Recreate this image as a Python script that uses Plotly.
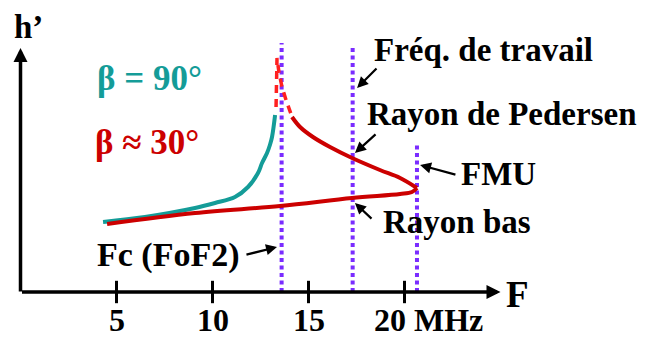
import plotly.graph_objects as go

# ---- data (frequency in MHz, virtual height h' in arbitrary units) ----
beta90_f = [4.30, 6.48, 9.09, 10.13, 11.17, 11.85, 12.37, 12.58, 12.84, 12.99, 13.10, 13.26]
beta90_h = [140, 150, 168, 178, 190, 210, 238, 258, 278, 294, 310, 354]

low_ray_f = [4.51, 9.09, 13.52, 17.27, 19.77, 20.39, 20.65]
low_ray_h = [136, 158, 172, 188, 196, 200, 208]

ped_ray_f = [14.14, 14.56, 15.23, 16.12, 17.27, 18.72, 19.77, 20.65]
ped_ray_h = [350, 330, 310, 290, 268, 244, 228, 208]

dash_f = [13.31, 13.36, 13.46, 13.62, 13.83, 14.09]
dash_h = [370, 468, 440, 410, 384, 356]

fc = 13.6
f_work = 17.3
fmu = 20.65
vline_x = [fc, f_work, fmu]
vline_top = [498, 490, 294]

tick_vals = [5, 10, 15]
tick_text = ["5", "10", "15"]
x_axis_end = 25.0
y_axis_end = 488

TEAL = "#149c98"
RED = "#cc0000"
VIOLET = "#7a2cff"
FONT = "Liberation Serif, Times New Roman, serif"

fig = go.Figure()

# vertical dotted lines
for xv, top in zip(vline_x, vline_top):
    fig.add_trace(go.Scatter(x=[xv, xv], y=[0, top], mode="lines",
                             line=dict(color=VIOLET, width=4, dash="4px,3.5px"),
                             hoverinfo="skip", cliponaxis=False))

fig.add_trace(go.Scatter(x=beta90_f, y=beta90_h, mode="lines",
                         line=dict(color=TEAL, width=4, shape="spline"), cliponaxis=False))
fig.add_trace(go.Scatter(x=low_ray_f, y=low_ray_h, mode="lines",
                         line=dict(color=RED, width=4, shape="spline"), cliponaxis=False))
fig.add_trace(go.Scatter(x=ped_ray_f, y=ped_ray_h, mode="lines",
                         line=dict(color=RED, width=4, shape="spline"), cliponaxis=False))
fig.add_trace(go.Scatter(x=dash_f, y=dash_h, mode="lines",
                         line=dict(color="#ff2020", width=3.5, dash="8px,6px"), cliponaxis=False))

# tick marks crossing the axis
fig.add_trace(go.Scatter(x=tick_vals + [20], y=[0] * 4, mode="markers",
                         marker=dict(symbol="line-ns", size=16,
                                     line=dict(color="black", width=3)),
                         cliponaxis=False))

ann = []
# axes as arrows
ann.append(dict(x=x_axis_end, y=0, ax=0, ay=0, xref="x", yref="y", axref="x", ayref="y",
                text="", showarrow=True, arrowhead=2, arrowsize=0.8, arrowwidth=3.5,
                arrowcolor="black"))
ann.append(dict(x=0, y=y_axis_end, ax=0, ay=-2, xref="x", yref="y", axref="x", ayref="y",
                text="", showarrow=True, arrowhead=2, arrowsize=0.8, arrowwidth=3.5,
                arrowcolor="black"))

# small pointer arrows: (tail_x, tail_y, head_x, head_y)
pointers = [
    (18.62, 450, 17.53, 408),
    (18.57, 318, 17.42, 278),
    (22.73, 234, 20.81, 254),
    (18.36, 144, 17.42, 178),
    (11.69, 74, 13.36, 90),
]
for tx, ty, hx, hy in pointers:
    ann.append(dict(x=hx, y=hy, ax=tx, ay=ty, xref="x", yref="y", axref="x", ayref="y",
                    text="", showarrow=True, arrowhead=2, arrowsize=1, arrowwidth=2.2,
                    arrowcolor="black"))

def label(txt, x, y, size=33, color="black", anchor="left", **kw):
    ann.append(dict(x=x, y=y, xref="x", yref="y", text="<b>" + txt + "</b>", showarrow=False,
                    xanchor=anchor, yanchor="middle",
                    font=dict(family=FONT, size=size, color=color), **kw))

label("β = 90°", 3.90, 428, size=35, color=TEAL)
label("β ≈ 30°", 3.80, 300, size=35, color=RED)
label("Fréq. de travail", 18.31, 484)
label("Rayon de Pedersen", 17.95, 356)
label("FMU", 22.84, 236)
label("Rayon bas", 18.75, 140)
label("Fc (FoF2)", 3.90, 74, size=34)
label("h’", -0.44, 530, size=33)
label("F", 25.18, -4, size=37)
for tv, tt in zip(tick_vals, tick_text):
    label(tt, tv, -56, size=32, anchor="center")
label("20 MHz", 18.31, -56, size=32)

# the page body has an 8px margin: the figure starts at screen pixel (8, 8)
fig.update_layout(
    width=641, height=330,
    margin=dict(l=0, r=0, t=0, b=0, pad=0),
    paper_bgcolor="white", plot_bgcolor="white",
    showlegend=False,
    xaxis=dict(range=[(8 - 20.5) / 19.2, (649 - 20.5) / 19.2], visible=False, fixedrange=True),
    yaxis=dict(range=[-92, (292 - 8) * 2], visible=False, fixedrange=True),
    annotations=ann,
)

fig.write_html("out.html")
